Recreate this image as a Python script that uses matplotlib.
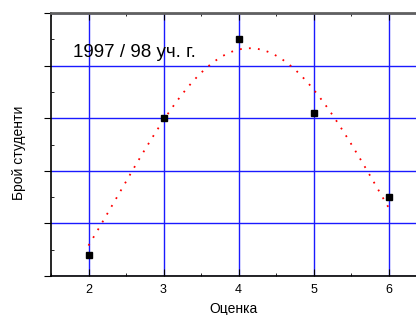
import numpy as np
import matplotlib
matplotlib.use("Agg")
import matplotlib.pyplot as plt
from matplotlib.ticker import MultipleLocator

plt.rcParams['font.family'] = ['Liberation Sans', 'DejaVu Sans']

# Data
grades = [2, 3, 4, 5, 6]
students = [4.0, 30.0, 45.0, 31.0, 15.0]
# Fitted curve parameters (Gaussian with offset)
fit_peak_x = 4.15
fit_amp = 71.9
fit_sigma = 1.77
fit_offset = -28.6
title_text = "1997 / 98 уч. г."
xlabel = "Оценка"
ylabel = "Брой студенти"

fig = plt.figure(figsize=(4.16, 3.15), dpi=100)
ax = fig.add_axes([51/416, 1-276/315, 1-51/416, (276-13)/315])

xf = np.linspace(min(grades), max(grades), 200)
yf = fit_offset + fit_amp*np.exp(-(xf-fit_peak_x)**2/(2*fit_sigma**2))

ax.set_xlim(1.5, 1.5 + (416-51)/75)
ax.set_ylim(0, 50)
ax.xaxis.set_major_locator(MultipleLocator(1))
ax.xaxis.set_minor_locator(MultipleLocator(0.5))
ax.yaxis.set_major_locator(MultipleLocator(10))
ax.yaxis.set_minor_locator(MultipleLocator(5))
ax.grid(True, which='major', color='#1a1aff', linewidth=1.0)
ax.set_axisbelow(True)

ax.plot(xf, yf, color='red', linestyle=(0, (1, 4)), linewidth=1.3, zorder=3)
ax.plot(grades, students, linestyle='none', marker='s', markersize=4.5,
        color='black', zorder=4, clip_on=False)

ax.spines['right'].set_visible(False)
ax.spines['top'].set_color('#606060')
ax.spines['top'].set_linewidth(2)
ax.spines['left'].set_linewidth(1.2)
ax.spines['bottom'].set_linewidth(1.2)

ax.tick_params(axis='x', which='major', direction='in', length=5, top=True,
               labelsize=9, pad=6)
ax.tick_params(axis='x', which='minor', direction='in', length=2, top=True)
ax.tick_params(axis='y', which='major', direction='out', length=5, labelleft=False)
ax.tick_params(axis='y', which='minor', direction='in', length=2)

ax.set_xlabel(xlabel, fontsize=10, labelpad=4)
ax.set_ylabel(ylabel, fontsize=10)
ax.yaxis.set_label_coords(-0.068, 0.468)

ax.text(1.79, 41.7, title_text, fontsize=13.5, ha='left', va='baseline')

fig.savefig("out.png", dpi=100)
